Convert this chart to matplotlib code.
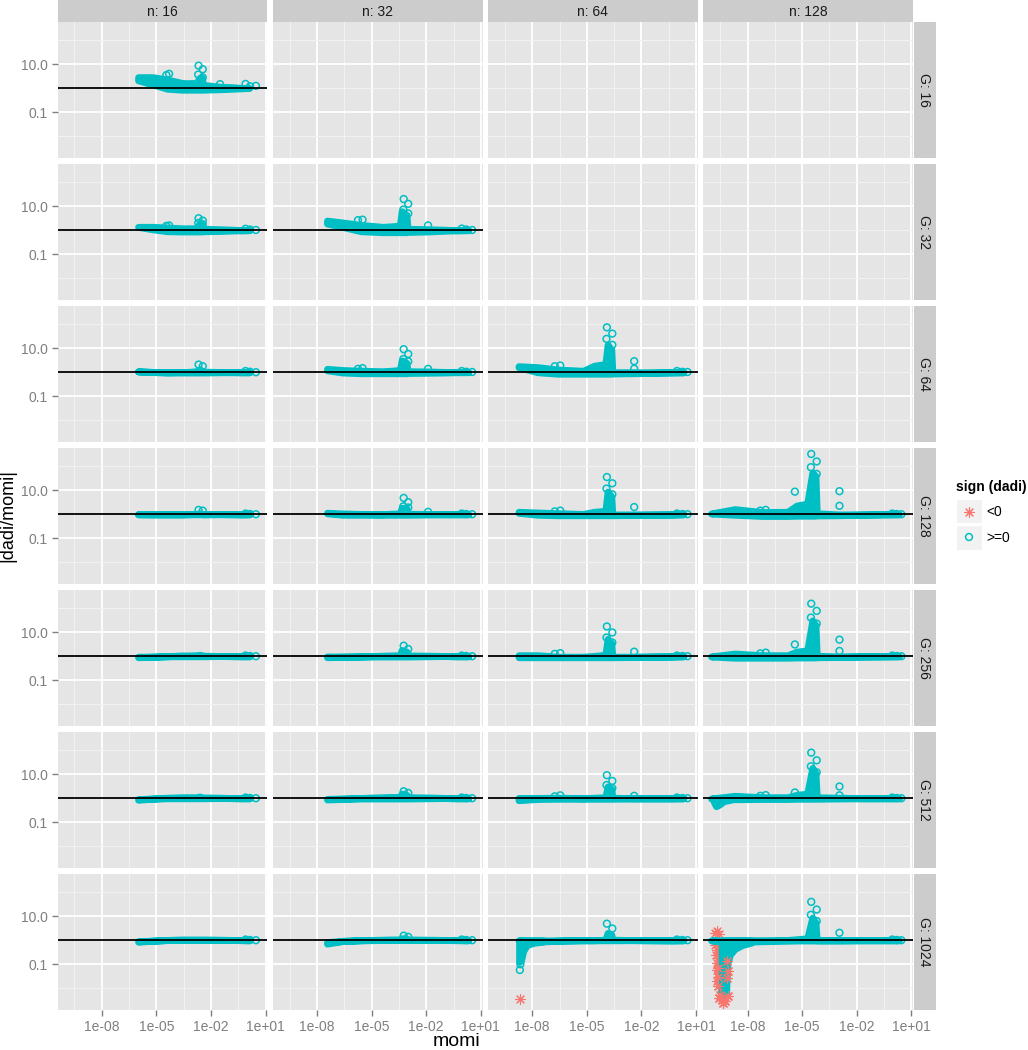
import matplotlib
matplotlib.use("Agg")
import matplotlib.pyplot as plt
import numpy as np
from matplotlib.patches import Rectangle

nan = float("nan")

n_values = [16, 32, 64, 128]
g_values = [16, 32, 64, 128, 256, 512, 1024]
xtick_labels = ["1e-08", "1e-05", "1e-02", "1e+01"]
xtick_exps = [-8, -5, -2, 1]
xminor_exps = [-9.5, -6.5, -3.5, -0.5]
ytick_labels = ["10.0", "0.1"]
ytick_exps = [1, -1]
yminor_exps = [2, 0, -2]

# everything below is log10(momi) / log10(|dadi/momi|)
band_x_n16 = [-6.0, -5.2, -4.4, -3.6, -3.3, -2.8, -2.62, -2.5, -2.45, -1.5, -0.8, -0.3, 0.1]
band_x_n32 = [-7.45, -6.6, -5.6, -4.4, -3.95, -3.45, -3.35, -3.09, -3.03, -1.9, -1.0, -0.3, 0.3]
band_x_n64 = [-8.75, -7.7, -6.6, -5.2, -4.6, -3.98, -3.86, -3.66, -3.6, -2.4, -1.4, -0.3, 0.3]
band_x_n128 = [-10.0, -8.7, -7.2, -5.8, -5.3, -4.72, -4.44, -4.27, -4.2, -3.0, -1.8, -0.5, 0.3]

circle_x_n16 = [-2.68, -2.45, -2.7, -2.45, -4.45, -4.3, -3.3, -1.5, -1.5, -0.1, 0.15, 0.47]
circle_x_n32 = [-3.24, -2.99, -3.26, -2.99, -5.75, -5.5, -3.9, -1.9, -1.9, -0.05, 0.2, 0.52]
circle_x_n64 = [-3.9, -3.6, -3.92, -3.6, -6.76, -6.46, -4.6, -2.4, -2.4, -0.05, 0.25, 0.53]
circle_x_n128 = [-4.5, -4.2, -4.52, -4.2, -7.3, -7.0, -5.4, -2.95, -2.95, -0.05, 0.2, 0.45]

up_g16_n16 = [.52, .52, .42, .28, .27, .28, .5, .5, .2, .12, .1, .07, .04]
lo_g16_n16 = [.27, .1, -.08, -.12, -.12, -.12, -.12, -.12, -.12, -.1, -.08, -.06, -.02]
cy_g16_n16 = [.94, .79, .57, .45, .55, .6, nan, .17, nan, .18, .08, .1]

up_g32_n16 = [.2, .2, .17, .14, .14, .14, .35, .3, .12, .1, .08, .05, .03]
lo_g32_n16 = [.08, -.02, -.1, -.11, -.11, -.11, -.11, -.11, -.1, -.09, -.07, -.05, -.02]
cy_g32_n16 = [.5, .4, .3, .25, .18, .2, nan, nan, nan, .06, .03, .01]

up_g32_n32 = [.46, .38, .28, .2, .22, .25, .85, .7, .12, .1, .08, .05, .03]
lo_g32_n32 = [.22, .08, -.1, -.14, -.14, -.14, -.14, -.14, -.13, -.11, -.08, -.05, -.02]
cy_g32_n32 = [1.3, 1.1, .86, .7, .42, .44, nan, .2, nan, .07, .03, .01]

up_g64_n16 = [.09, .07, .06, .07, .07, .1, .18, .12, .08, .07, .06, .04, .02]
lo_g64_n16 = [-.02, -.05, -.07, -.07, -.07, -.07, -.07, -.07, -.07, -.06, -.05, -.04, -.02]
cy_g64_n16 = [.32, .25, nan, nan, nan, nan, nan, nan, nan, .05, .02, .0]

up_g64_n32 = [.2, .15, .12, .1, .12, .15, .55, .45, .1, .09, .07, .05, .03]
lo_g64_n32 = [.02, -.07, -.1, -.1, -.1, -.1, -.1, -.1, -.09, -.08, -.07, -.04, -.02]
cy_g64_n32 = [.96, .76, .55, .45, .14, .17, nan, .14, nan, .05, .02, .01]

up_g64_n64 = [.31, .27, .17, .12, .33, .4, 1.2, 1.0, .06, .06, .05, .04, .02]
lo_g64_n64 = [.15, -.06, -.12, -.12, -.12, -.12, -.12, -.12, -.11, -.1, -.08, -.05, -.02]
cy_g64_n64 = [1.87, 1.61, 1.39, 1.14, .25, .28, nan, .46, .15, .05, .02, .01]

up_g128_n16 = [.06, .05, .05, .05, .06, .07, .1, .08, .06, .06, .05, .03, .02]
lo_g128_n16 = [-.06, -.06, -.06, -.06, -.06, -.06, -.06, -.06, -.06, -.05, -.05, -.04, -.02]
cy_g128_n16 = [.18, .15, nan, nan, nan, nan, nan, nan, nan, .03, .01, .0]

up_g128_n32 = [.12, .09, .07, .06, .08, .09, .33, .3, .08, .07, .06, .04, .02]
lo_g128_n32 = [-.02, -.08, -.08, -.08, -.08, -.08, -.08, -.08, -.08, -.07, -.06, -.04, -.02]
cy_g128_n32 = [.68, .5, .33, .28, nan, nan, nan, .1, nan, .03, .01, .0]

up_g128_n64 = [.16, .13, .1, .07, .16, .2, 1.0, .8, .05, .05, .04, .03, .02]
lo_g128_n64 = [.0, -.08, -.1, -.1, -.1, -.1, -.1, -.1, -.1, -.09, -.07, -.05, -.02]
cy_g128_n64 = [1.55, 1.29, 1.07, .83, .12, .15, nan, .3, nan, .03, .01, .0]

up_g128_n128 = [.08, .27, .15, .16, .42, .5, 1.8, 1.65, .1, .05, .05, .04, .02]
lo_g128_n128 = [-.02, -.08, -.13, -.13, -.12, -.12, -.12, -.12, -.11, -.1, -.08, -.05, -.02]
cy_g128_n128 = [2.51, 2.2, 1.96, 1.68, .15, .18, .94, .96, .35, .03, .01, .0]

up_g256_n16 = [.04, .03, .06, .09, .09, .1, .12, .1, .08, .07, .06, .04, .02]
lo_g256_n16 = [-.1, -.07, -.06, -.06, -.06, -.06, -.06, -.06, -.06, -.05, -.05, -.04, -.02]
cy_g256_n16 = [nan, nan, nan, nan, nan, nan, nan, nan, nan, .03, .01, .0]

up_g256_n32 = [.05, .04, .05, .08, .09, .1, .32, .25, .09, .08, .07, .04, .02]
lo_g256_n32 = [-.1, -.08, -.07, -.07, -.07, -.07, -.07, -.07, -.07, -.06, -.05, -.04, -.02]
cy_g256_n32 = [.44, .3, nan, nan, nan, nan, nan, nan, nan, .03, .01, .0]

up_g256_n64 = [.1, .1, .04, .04, .07, .12, .78, .6, .04, .04, .04, .03, .02]
lo_g256_n64 = [-.1, -.1, -.1, -.1, -.1, -.1, -.1, -.1, -.1, -.09, -.07, -.05, -.02]
cy_g256_n64 = [1.24, .99, .78, .57, .1, .13, nan, .19, nan, .03, .01, .0]

up_g256_n128 = [.03, .17, .1, .1, .25, .3, 1.55, 1.35, .08, .05, .05, .04, .02]
lo_g256_n128 = [-.05, -.12, -.12, -.12, -.11, -.11, -.11, -.11, -.1, -.09, -.07, -.05, -.02]
cy_g256_n128 = [2.19, 1.89, 1.61, 1.36, .12, .15, .49, .69, .22, .03, .01, .0]

up_g512_n16 = [.02, .05, .08, .1, .1, .1, .13, .1, .09, .08, .06, .04, .02]
lo_g512_n16 = [-.12, -.08, -.06, -.06, -.06, -.06, -.06, -.06, -.06, -.05, -.05, -.04, -.02]
cy_g512_n16 = [nan, nan, nan, nan, nan, nan, nan, nan, nan, .03, .01, .0]

up_g512_n32 = [.03, .05, .07, .1, .11, .11, .25, .2, .1, .09, .07, .04, .02]
lo_g512_n32 = [-.11, -.09, -.07, -.07, -.07, -.07, -.07, -.07, -.07, -.06, -.05, -.04, -.02]
cy_g512_n32 = [.29, .22, nan, nan, nan, nan, nan, nan, nan, .03, .01, .0]

up_g512_n64 = [.07, .07, .08, .06, .08, .1, .55, .45, .08, .06, .05, .03, .02]
lo_g512_n64 = [-.14, -.09, -.08, -.08, -.08, -.08, -.08, -.08, -.08, -.07, -.06, -.04, -.02]
cy_g512_n64 = [.96, .72, .55, .42, .08, .12, nan, .1, nan, .03, .01, .0]

up_g512_n128 = [.02, .16, .1, .1, .2, .25, 1.32, 1.1, .1, .08, .06, .04, .02]
lo_g512_n128 = [-.05, -.1, -.09, -.09, -.08, -.08, -.08, -.08, -.08, -.07, -.06, -.04, -.02]
cy_g512_n128 = [1.9, 1.58, 1.33, 1.08, .1, .13, .24, .49, .12, .03, .01, .0]

up_g1024_n16 = [.02, .04, .07, .09, .09, .09, .09, .09, .09, .08, .06, .04, .02]
lo_g1024_n16 = [-.12, -.08, -.05, -.05, -.05, -.05, -.05, -.05, -.05, -.05, -.04, -.03, -.02]
cy_g1024_n16 = [nan, nan, nan, nan, nan, nan, nan, nan, nan, .03, .01, .0]

up_g1024_n32 = [-.02, .03, .06, .08, .09, .09, .14, .12, .09, .08, .06, .04, .02]
lo_g1024_n32 = [-.2, -.09, -.06, -.05, -.05, -.05, -.05, -.05, -.05, -.05, -.04, -.03, -.02]
cy_g1024_n32 = [.19, .14, nan, nan, nan, nan, nan, nan, nan, .03, .01, .0]

up_g1024_n64 = [.04, .05, .05, .06, .06, .08, .36, .3, .08, .06, .05, .03, .02]
lo_g1024_n64 = [-.06, -.12, -.08, -.06, -.06, -.06, -.06, -.06, -.06, -.05, -.05, -.04, -.02]
cy_g1024_n64 = [.69, .49, nan, nan, nan, nan, nan, nan, nan, .03, .01, .0]

up_g1024_n128 = [.04, .06, .06, .07, .1, .14, 1.0, .8, .06, .05, .05, .04, .02]
lo_g1024_n128 = [-.05, -.14, -.1, -.08, -.07, -.07, -.07, -.07, -.07, -.06, -.05, -.04, -.02]
cy_g1024_n128 = [1.6, 1.28, 1.06, .8, nan, nan, nan, .31, nan, .03, .01, .0]

# low tails at small momi
dip_x_g512_n128 = [-9.85, -9.73, -9.55, -9.3, -8.9]
dip_lo_g512_n128 = [-.15, -.33, -.26, -.12, -.06]

dip_x_g1024_n64 = [-8.72, -8.62, -8.5, -8.3, -7.9, -7.4]
dip_lo_g1024_n64 = [-.9, -.85, -.45, -.2, -.1, -.06]
dip_circle_x_g1024_n64 = [-8.68, -8.65]
dip_circle_y_g1024_n64 = [-1.24, -1.0]
star_x_g1024_n64 = [-8.68]
star_y_g1024_n64 = [-2.46]

dip_x_g1024_n128 = [-9.42, -9.3, -9.18, -9.12, -8.97, -8.7, -8.3, -7.8]
dip_lo_g1024_n128 = [-2.15, -2.25, -2.2, -1.0, -.6, -.36, -.2, -.1]
dip_circle_x_g1024_n128 = [-9.38, -9.38, -9.35, -9.3]
dip_circle_y_g1024_n128 = [-1.3, -2.1, -1.7, -2.25]
star_x_g1024_n128 = [-9.8, -9.7, -9.56, -9.78, -9.7, -9.6, -9.72, -9.6, -9.66, -9.55, -9.7, -9.58, -9.65, -9.5,
                     -9.15, -9.64, -9.6, -9.1, -9.12, -9.6, -9.5, -9.1, -9.42, -9.33, -9.25, -9.56]
star_y_g1024_n128 = [.31, .38, .24, -.18, -.39, -.3, -.62, -.74, -.95, -1.1, -1.22, -1.38, -1.7, -1.5,
                     -.88, -1.15, -1.55, -1.29, -1.57, -1.92, -2.28, -2.33, -2.47, -2.62, -2.55, -2.4]

band_x = {16: band_x_n16, 32: band_x_n32, 64: band_x_n64, 128: band_x_n128}
circle_x = {16: circle_x_n16, 32: circle_x_n32, 64: circle_x_n64, 128: circle_x_n128}
panels = {
    (16, 16): (up_g16_n16, lo_g16_n16, cy_g16_n16),
    (32, 16): (up_g32_n16, lo_g32_n16, cy_g32_n16),
    (32, 32): (up_g32_n32, lo_g32_n32, cy_g32_n32),
    (64, 16): (up_g64_n16, lo_g64_n16, cy_g64_n16),
    (64, 32): (up_g64_n32, lo_g64_n32, cy_g64_n32),
    (64, 64): (up_g64_n64, lo_g64_n64, cy_g64_n64),
    (128, 16): (up_g128_n16, lo_g128_n16, cy_g128_n16),
    (128, 32): (up_g128_n32, lo_g128_n32, cy_g128_n32),
    (128, 64): (up_g128_n64, lo_g128_n64, cy_g128_n64),
    (128, 128): (up_g128_n128, lo_g128_n128, cy_g128_n128),
    (256, 16): (up_g256_n16, lo_g256_n16, cy_g256_n16),
    (256, 32): (up_g256_n32, lo_g256_n32, cy_g256_n32),
    (256, 64): (up_g256_n64, lo_g256_n64, cy_g256_n64),
    (256, 128): (up_g256_n128, lo_g256_n128, cy_g256_n128),
    (512, 16): (up_g512_n16, lo_g512_n16, cy_g512_n16),
    (512, 32): (up_g512_n32, lo_g512_n32, cy_g512_n32),
    (512, 64): (up_g512_n64, lo_g512_n64, cy_g512_n64),
    (512, 128): (up_g512_n128, lo_g512_n128, cy_g512_n128),
    (1024, 16): (up_g1024_n16, lo_g1024_n16, cy_g1024_n16),
    (1024, 32): (up_g1024_n32, lo_g1024_n32, cy_g1024_n32),
    (1024, 64): (up_g1024_n64, lo_g1024_n64, cy_g1024_n64),
    (1024, 128): (up_g1024_n128, lo_g1024_n128, cy_g1024_n128),
}
dips = {
    (512, 128): (dip_x_g512_n128, dip_lo_g512_n128),
    (1024, 64): (dip_x_g1024_n64, dip_lo_g1024_n64),
    (1024, 128): (dip_x_g1024_n128, dip_lo_g1024_n128),
}
stars = {
    (1024, 64): (star_x_g1024_n64, star_y_g1024_n64),
    (1024, 128): (star_x_g1024_n128, star_y_g1024_n128),
}
dip_circles = {
    (1024, 64): (dip_circle_x_g1024_n64, dip_circle_y_g1024_n64),
    (1024, 128): (dip_circle_x_g1024_n128, dip_circle_y_g1024_n128),
}

TEAL = "#00BFC4"
SALMON = "#F8766D"
GREY_TEXT = "#7F7F7F"
WIDTH, HEIGHT = 1028, 1050
CIRCLE = dict(s=24, facecolors="none", edgecolors=TEAL, linewidths=1.1)
STAR = dict(s=50, marker=(8, 2, 0), color=SALMON, linewidths=0.8)
BAND_EDGE_PT = 5.0
# the thick polygon edge already adds this much (in decades) around the band
BAND_PAD = 0.06

plt.rcParams["font.family"] = ["Liberation Sans", "DejaVu Sans"]

panel_left = [57.5, 272.8, 488.0, 703.3]
panel_w = 209.7
panel_top = [22.0, 164.0, 306.0, 448.0, 590.0, 732.0, 874.0]
panel_h = 136.3


def pixel_box(left, top, w, h):
    return [left / WIDTH, 1 - (top + h) / HEIGHT, w / WIDTH, h / HEIGHT]


def exp10(values):
    return 10.0 ** np.array(values, dtype=float)


def style_panel(ax, show_x, show_y):
    ax.set_facecolor("#E5E5E5")
    for spine in ax.spines.values():
        spine.set_visible(False)
    ax.set_xscale("log")
    ax.set_yscale("log")
    ax.set_xlim(10.0 ** -10.43, 10.0 ** 1.09)
    ax.set_ylim(10.0 ** -2.92, 10.0 ** 2.76)
    ax.set_xticks(exp10(xtick_exps))
    ax.set_xticks(exp10(xminor_exps), minor=True)
    ax.set_yticks(exp10(ytick_exps))
    ax.set_yticks(exp10(yminor_exps), minor=True)
    ax.set_xticklabels(xtick_labels if show_x else [])
    ax.set_yticklabels(ytick_labels if show_y else [])
    ax.set_xticklabels([], minor=True)
    ax.set_yticklabels([], minor=True)
    ax.grid(True, which="major", color="white", linewidth=1.3)
    ax.grid(True, which="minor", color="#F2F2F2", linewidth=0.7)
    ax.set_axisbelow(True)
    ax.tick_params(which="minor", length=0)
    ax.tick_params(which="major", axis="x", length=4 if show_x else 0, width=1, color=GREY_TEXT,
                   labelcolor=GREY_TEXT, labelsize=10, pad=3)
    ax.tick_params(which="major", axis="y", length=4 if show_y else 0, width=1, color=GREY_TEXT,
                   labelcolor=GREY_TEXT, labelsize=10, pad=3)


def draw_panel(ax, g, n):
    key = (g, n)
    if key not in panels:
        return
    up, lo, cy = panels[key]
    if key in stars:
        ax.scatter(exp10(stars[key][0]), exp10(stars[key][1]), zorder=2, **STAR)
    upper = np.array(up) - BAND_PAD
    lower = np.array(lo) + BAND_PAD
    mid = (upper + lower) / 2
    ax.fill_between(exp10(band_x[n]), exp10(np.minimum(lower, mid)), exp10(np.maximum(upper, mid)),
                    facecolor=TEAL, edgecolor=TEAL, linewidth=BAND_EDGE_PT, joinstyle="round", zorder=3)
    if key in dips:
        dip_x, dip_lo = dips[key]
        ax.fill_between(exp10(dip_x), exp10(dip_lo), 1.0, facecolor=TEAL, edgecolor=TEAL,
                        linewidth=BAND_EDGE_PT, joinstyle="round", zorder=3)
    ax.scatter(exp10(circle_x[n]), exp10(cy), zorder=4, **CIRCLE)
    if key in dip_circles:
        ax.scatter(exp10(dip_circles[key][0]), exp10(dip_circles[key][1]), zorder=4, **CIRCLE)
    if key == (1024, 128):
        # some of the asterisks sit on top of the teal column
        ax.scatter(exp10(stars[key][0][14:]), exp10(stars[key][1][14:]), zorder=5, **STAR)
    ax.axhline(1.0, color="black", linewidth=1.3, zorder=6)


def draw_legend(fig):
    fig.text(956 / WIDTH, 1 - 487 / HEIGHT, "sign (dadi)", fontsize=10, fontweight="bold",
             va="center", ha="left")
    ax = fig.add_axes(pixel_box(957, 499, 60, 52))
    ax.set_xlim(957, 1017)
    ax.set_ylim(551, 499)
    ax.axis("off")
    ax.add_patch(Rectangle((957, 499.5), 24.5, 23, facecolor="#F2F2F2", edgecolor="none"))
    ax.add_patch(Rectangle((957, 525.5), 24.5, 24.5, facecolor="#F2F2F2", edgecolor="none"))
    ax.scatter([969], [512], **STAR)
    ax.scatter([969], [537], **CIRCLE)
    ax.text(986, 512.5, "<0", fontsize=10, va="center", ha="left")
    ax.text(986, 537.5, ">=0", fontsize=10, va="center", ha="left")


def main():
    fig = plt.figure(figsize=(WIDTH / 100, HEIGHT / 100), dpi=100, facecolor="white")
    for i, g in enumerate(g_values):
        for j, n in enumerate(n_values):
            ax = fig.add_axes(pixel_box(panel_left[j], panel_top[i], panel_w, panel_h))
            style_panel(ax, i == len(g_values) - 1, j == 0)
            draw_panel(ax, g, n)

    for j, n in enumerate(n_values):
        box = pixel_box(panel_left[j], 0, panel_w, 21.5)
        fig.add_artist(Rectangle(box[:2], box[2], box[3], transform=fig.transFigure,
                                 facecolor="#CCCCCC", edgecolor="none"))
        fig.text((panel_left[j] + panel_w / 2) / WIDTH, 1 - 11.5 / HEIGHT, f"n: {n}",
                 fontsize=10, ha="center", va="center", color="#1A1A1A")
    for i, g in enumerate(g_values):
        box = pixel_box(914, panel_top[i], 21.5, panel_h)
        fig.add_artist(Rectangle(box[:2], box[2], box[3], transform=fig.transFigure,
                                 facecolor="#CCCCCC", edgecolor="none"))
        fig.text(924.5 / WIDTH, 1 - (panel_top[i] + panel_h / 2) / HEIGHT, f"G: {g}",
                 fontsize=10, rotation=-90, ha="center", va="center", color="#1A1A1A")

    fig.text(457 / WIDTH, 1 - 1042 / HEIGHT, "momi", fontsize=14, ha="center", va="center")
    fig.text(8 / WIDTH, 1 - 516 / HEIGHT, "|dadi/momi|", fontsize=13, rotation=90,
             ha="center", va="center")
    draw_legend(fig)
    fig.savefig("out.png", dpi=100)
    plt.close(fig)


if __name__ == "__main__":
    main()
